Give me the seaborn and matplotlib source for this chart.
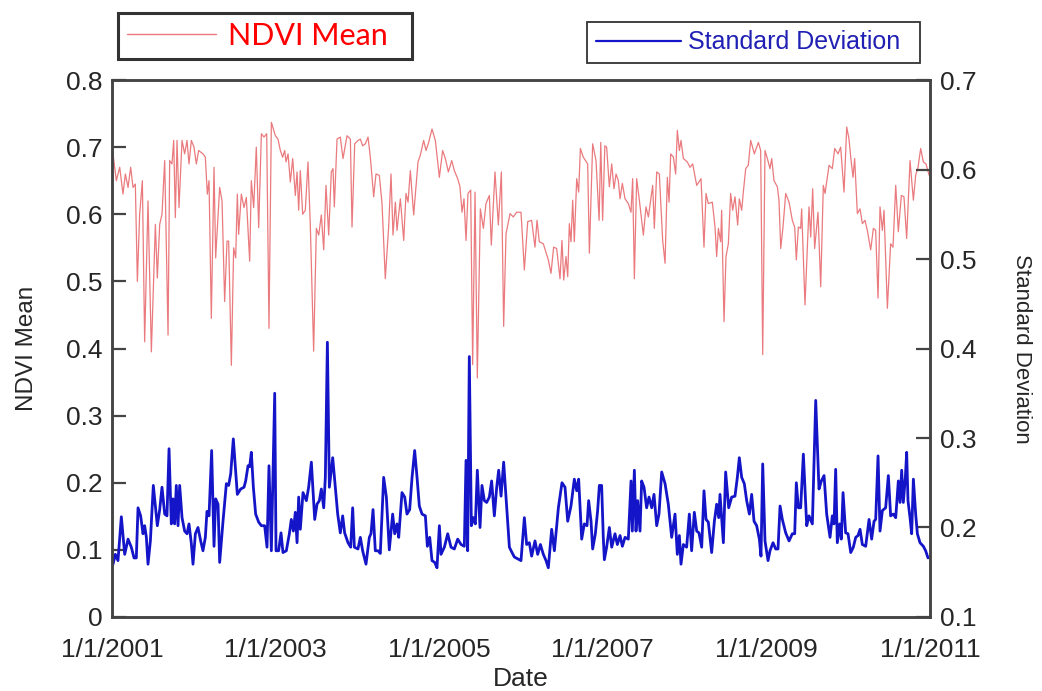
import matplotlib
matplotlib.use("Agg")
import matplotlib.pyplot as plt
from matplotlib.lines import Line2D
import seaborn as sns
import pandas as pd

# ---------------- data (years since 1/1/2001) -------------
ndvi_t = [0.012,0.053,0.094,0.134,0.163,0.196,0.228,0.257,0.285,0.310,0.338,0.371,0.399,0.440,0.481,0.530,0.554,0.583,0.611,0.644,0.685,0.705,0.733,0.754,0.774,0.795,0.819,0.856,0.888,0.917,0.941,0.970,1.002,1.031,1.059,1.112,1.141,1.165,1.186,1.214,1.247,1.267,1.316,1.345,1.377,1.406,1.426,1.459,1.487,1.512,1.532,1.548,1.581,1.614,1.642,1.683,1.703,1.732,1.764,1.793,1.826,1.858,1.891,1.919,1.948,
          1.997,2.029,2.058,2.086,2.111,2.127,2.152,2.180,2.209,2.241,2.262,2.282,2.302,2.331,2.363,2.396,2.425,2.465,2.498,2.527,2.559,2.588,2.616,2.649,2.681,2.702,2.718,2.751,2.791,2.824,2.873,2.914,2.934,2.967,3.007,3.036,3.064,3.097,3.130,3.158,3.199,3.227,3.268,3.301,3.341,3.382,3.411,3.435,3.464,3.484,3.525,3.566,3.594,3.619,3.647,3.688,3.741,3.769,3.810,3.839,3.871,3.912,3.953,
          4.002,4.042,4.075,4.112,4.153,4.185,4.226,4.254,4.279,4.303,4.328,4.352,4.385,4.409,4.438,4.466,4.503,4.540,4.572,4.613,4.637,4.682,4.723,4.760,4.788,4.817,4.866,4.906,4.947,5.000,5.041,5.082,5.130,5.171,5.196,5.224,5.273,5.334,5.367,5.399,5.436,5.477,5.501,5.522,5.550,5.571,5.591,5.611,5.632,5.652,5.681,5.705,5.726,5.762,5.815,5.836,5.876,5.917,5.955,5.975,5.998,6.025,
          6.047,6.080,6.109,6.137,6.162,6.190,6.211,6.239,6.272,6.312,6.345,6.365,6.386,6.414,6.447,6.496,6.528,6.557,6.610,6.630,6.659,6.691,6.732,6.761,6.789,6.810,6.830,6.863,6.891,6.911,6.936,6.956,6.985,7.033,7.066,7.099,7.148,7.201,7.237,7.262,7.290,7.339,7.372,7.392,7.413,7.441,7.453,7.482,7.506,7.535,7.563,7.588,7.616,7.649,7.669,7.698,7.718,7.747,7.779,7.808,7.853,7.902,7.930,7.955,
          7.983,8.012,8.044,8.065,8.093,8.134,8.154,8.175,8.203,8.236,8.277,8.317,8.346,8.366,8.391,8.419,8.431,8.472,8.521,8.542,8.566,8.590,8.631,8.664,8.696,8.717,8.766,8.806,8.835,8.876,8.908,8.949,8.982,9.010,9.031,9.059,9.079,9.112,9.145,9.173,9.206,9.234,9.275,9.308,9.336,9.365,9.389,9.418,9.438,9.479,9.519,9.548,9.581,9.613,9.650,9.682,9.715,9.756,9.797,9.825,9.854,9.886,9.919,9.951,9.990]
ndvi_mean = [.690,.650,.670,.630,.660,.640,.670,.640,.645,.500,.600,.650,.410,.620,.395,.585,.505,.585,.600,.680,.420,.680,.675,.710,.595,.710,.610,.710,.690,.710,.675,.710,.700,.675,.695,.690,.685,.630,.650,.445,.670,.535,.640,.620,.470,.560,.560,.375,.550,.535,.630,.570,.630,.610,.625,.530,.650,.610,.700,.580,.720,.715,.720,.430,.737,
             .717,.712,.695,.685,.695,.678,.690,.648,.683,.628,.663,.606,.665,.600,.606,.678,.581,.396,.579,.569,.599,.547,.643,.569,.663,.668,.611,.712,.715,.683,.717,.712,.581,.705,.710,.712,.702,.705,.715,.685,.626,.660,.658,.616,.504,.581,.660,.569,.618,.576,.623,.561,.631,.618,.665,.599,.678,.688,.710,.695,.707,.727,.710,
             .655,.695,.683,.663,.680,.665,.653,.641,.603,.623,.561,.631,.636,.376,.633,.356,.608,.579,.616,.628,.554,.663,.584,.663,.433,.571,.601,.596,.603,.603,.517,.589,.591,.551,.591,.559,.556,.532,.512,.551,.549,.504,.561,.502,.537,.507,.586,.559,.621,.559,.653,.633,.698,.685,.675,.542,.705,.680,.591,.707,.591,.702,
             .700,.641,.675,.638,.660,.650,.623,.646,.623,.616,.603,.653,.504,.653,.621,.569,.611,.596,.643,.579,.663,.660,.561,.527,.655,.618,.690,.685,.660,.725,.695,.710,.683,.678,.670,.675,.643,.653,.551,.631,.616,.618,.581,.537,.579,.559,.606,.440,.537,.556,.631,.606,.626,.584,.623,.606,.633,.668,.673,.710,.690,.707,.695,.391,
             .695,.683,.668,.683,.650,.641,.621,.549,.581,.631,.618,.591,.581,.532,.581,.579,.608,.465,.611,.566,.638,.549,.603,.492,.643,.631,.673,.668,.698,.690,.700,.633,.730,.712,.685,.655,.683,.601,.608,.586,.591,.576,.547,.579,.576,.475,.611,.576,.606,.460,.556,.551,.643,.574,.628,.626,.564,.680,.621,.658,.670,.698,.678,.675,.658]

sd_t = [0.012,0.041,0.073,0.114,0.155,0.196,0.236,0.269,0.297,0.318,0.350,0.379,0.399,0.420,0.440,0.469,0.505,0.554,0.583,0.611,0.644,0.672,0.697,0.725,0.746,0.766,0.786,0.807,0.827,0.856,0.888,0.917,0.941,0.970,0.990,1.019,1.051,1.084,1.112,1.141,1.161,1.186,1.218,1.247,1.267,1.296,1.316,1.357,1.398,1.426,1.451,1.483,1.508,1.532,1.573,1.614,1.634,1.663,1.683,1.703,1.728,1.756,1.793,1.826,1.866,1.895,1.919,1.948,1.989,
        2.005,2.037,2.066,2.090,2.131,2.168,2.192,2.217,2.241,2.262,2.282,2.302,2.335,2.376,2.404,2.437,2.478,2.506,2.535,2.559,2.588,2.608,2.633,2.657,2.698,2.730,2.759,2.791,2.820,2.844,2.885,2.918,2.942,2.963,3.007,3.036,3.064,3.105,3.146,3.166,3.191,3.219,3.252,3.280,3.321,3.354,3.390,3.431,3.456,3.484,3.505,3.545,3.578,3.606,3.639,3.668,3.700,3.729,3.757,3.790,3.831,3.855,3.884,3.912,3.945,3.973,
        4.002,4.022,4.063,4.104,4.144,4.185,4.226,4.267,4.307,4.328,4.348,4.368,4.393,4.417,4.442,4.466,4.499,4.523,4.552,4.580,4.613,4.641,4.674,4.703,4.727,4.756,4.788,4.825,4.858,4.890,4.919,4.959,5.000,5.041,5.069,5.102,5.130,5.171,5.204,5.237,5.273,5.306,5.334,5.375,5.408,5.457,5.501,5.538,5.571,5.611,5.652,5.681,5.705,5.742,5.774,5.807,5.827,5.856,5.876,5.909,5.937,5.958,5.986,
        6.006,6.019,6.047,6.080,6.109,6.149,6.178,6.211,6.239,6.272,6.312,6.345,6.361,6.386,6.406,6.426,6.455,6.475,6.504,6.536,6.565,6.598,6.626,6.659,6.687,6.720,6.761,6.801,6.842,6.883,6.911,6.936,6.956,6.985,7.025,7.058,7.086,7.119,7.148,7.176,7.209,7.237,7.262,7.290,7.331,7.364,7.392,7.417,7.433,7.474,7.502,7.539,7.576,7.616,7.645,7.669,7.698,7.730,7.759,7.792,7.820,7.849,7.881,7.914,7.934,7.955,7.983,
        8.020,8.044,8.081,8.114,8.142,8.167,8.195,8.236,8.277,8.317,8.346,8.366,8.391,8.419,8.452,8.493,8.521,8.562,8.603,8.643,8.672,8.705,8.737,8.778,8.806,8.827,8.847,8.867,8.896,8.916,8.937,8.969,8.998,9.031,9.063,9.092,9.120,9.145,9.173,9.214,9.255,9.287,9.316,9.336,9.365,9.389,9.418,9.458,9.491,9.519,9.552,9.581,9.613,9.634,9.654,9.674,9.699,9.715,9.731,9.756,9.776,9.797,9.825,9.846,9.878,9.919,9.947,9.976]
sd_value = [.159,.170,.163,.212,.170,.187,.178,.166,.166,.222,.213,.193,.202,.189,.159,.185,.247,.202,.220,.245,.215,.213,.288,.204,.232,.204,.247,.202,.247,.211,.196,.193,.204,.182,.159,.193,.200,.185,.174,.189,.218,.213,.286,.179,.232,.226,.161,.207,.249,.247,.260,.299,.267,.237,.243,.245,.252,.269,.268,.284,.245,.215,.206,.202,.202,.178,.269,.174,.350,
            .174,.174,.194,.172,.174,.193,.209,.196,.217,.183,.234,.198,.239,.230,.245,.273,.209,.226,.230,.243,.222,.256,.407,.245,.278,.245,.215,.194,.213,.194,.183,.178,.222,.178,.176,.189,.174,.159,.189,.193,.220,.174,.174,.171,.256,.234,.175,.215,.193,.204,.189,.239,.234,.215,.220,.256,.286,.256,.224,.215,.213,.179,.189,.163,.161,.155,
            .202,.170,.178,.193,.178,.176,.187,.181,.179,.275,.174,.391,.202,.211,.204,.264,.200,.247,.230,.228,.234,.252,.213,.245,.264,.235,.273,.222,.178,.172,.167,.165,.163,.211,.181,.183,.168,.185,.170,.181,.170,.163,.155,.198,.174,.222,.250,.245,.207,.224,.254,.241,.254,.187,.204,.202,.230,.207,.176,.193,.219,.247,.247,
            .189,.164,.178,.200,.178,.193,.181,.191,.179,.189,.187,.252,.196,.264,.196,.230,.196,.252,.245,.222,.234,.222,.237,.202,.215,.262,.249,.226,.189,.215,.170,.191,.159,.181,.178,.215,.174,.217,.196,.194,.178,.241,.209,.206,.172,.207,.226,.211,.237,.183,.262,.222,.234,.235,.256,.278,.256,.249,.230,.215,.237,.207,.202,.187,.168,.271,.185,
            .163,.174,.183,.176,.176,.224,.209,.194,.185,.193,.193,.250,.222,.222,.282,.202,.213,.204,.342,.243,.252,.258,.215,.189,.213,.204,.265,.183,.204,.187,.239,.194,.193,.172,.178,.189,.191,.198,.181,.179,.209,.187,.207,.209,.280,.196,.219,.222,.258,.213,.215,.211,.252,.228,.264,.228,.256,.284,.230,.211,.193,.254,.215,.193,.183,.179,.174,.166]

start_year = 2001
xtick_years = [2001, 2003, 2005, 2007, 2009, 2011]
xtick_labels = ["1/1/2001", "1/1/2003", "1/1/2005", "1/1/2007", "1/1/2009", "1/1/2011"]
left_ticks = [0, 0.1, 0.2, 0.3, 0.4, 0.5, 0.6, 0.7, 0.8]
left_labels = ["0", "0.1", "0.2", "0.3", "0.4", "0.5", "0.6", "0.7", "0.8"]
right_ticks = [0.1, 0.2, 0.3, 0.4, 0.5, 0.6, 0.7]
right_labels = ["0.1", "0.2", "0.3", "0.4", "0.5", "0.6", "0.7"]

# ---------------- styling ----------------
sns.set_style("white")
plt.rcParams['font.family'] = ['Liberation Sans', 'DejaVu Sans']

RED = "#ea7a7e"
BLUE = "#1414c8"
SPINE = "#444444"

df_ndvi = pd.DataFrame({"year": [start_year + t for t in ndvi_t], "value": ndvi_mean})
df_sd = pd.DataFrame({"year": [start_year + t for t in sd_t], "value": sd_value})

fig = plt.figure(figsize=(10.42, 6.91), dpi=100)
ax = fig.add_axes([0.1075, 0.1071, 0.785, 0.7771])
ax2 = ax.twinx()

sns.lineplot(data=df_ndvi, x="year", y="value", ax=ax, color=RED, linewidth=0.9, legend=False)
sns.lineplot(data=df_sd, x="year", y="value", ax=ax2, color=BLUE, linewidth=2.0, legend=False)

ax.set_xlim(2001, 2011)
ax.set_ylim(0, 0.8)
ax2.set_ylim(0.1, 0.7)

ax.set_xticks(xtick_years)
ax.set_xticklabels(xtick_labels)
ax.set_yticks(left_ticks)
ax.set_yticklabels(left_labels)
ax2.set_yticks(right_ticks)
ax2.set_yticklabels(right_labels)

for a in (ax, ax2):
    for s in a.spines.values():
        s.set_color(SPINE)
        s.set_linewidth(1.8)
    a.tick_params(direction="in", length=10, width=1.6, color=SPINE, labelsize=19, pad=7)
ax.tick_params(axis="x", length=9, pad=15)
ax2.tick_params(axis="y", pad=7)

ax.set_xlabel("Date", fontsize=19, labelpad=4)
ax.set_ylabel("NDVI Mean", fontsize=17.5, labelpad=20)
ax2.set_ylabel("Standard Deviation", fontsize=16, rotation=270, labelpad=40)

# ---------------- legends ----------------
h1 = Line2D([], [], color=RED, linewidth=1.0)
leg1 = fig.legend([h1], ["NDVI Mean"], loc="lower left",
                  bbox_to_anchor=(118 / 1042, 1 - 59 / 691, 294 / 1042, 0.01),
                  mode="expand", frameon=True, fancybox=False, handlelength=2.9,
                  handletextpad=0.4, borderpad=0.3, borderaxespad=0.0,
                  labelcolor="#ff0000",
                  prop={"family": ["Lato", "DejaVu Sans"], "size": 22})
leg1.get_frame().set_edgecolor("black")
leg1.get_frame().set_linewidth(2.2)

h2 = Line2D([], [], color=BLUE, linewidth=1.6)
leg2 = fig.legend([h2], ["Standard Deviation"], loc="lower left",
                  bbox_to_anchor=(587 / 1042, 1 - 63 / 691, 333 / 1042, 0.01),
                  mode="expand", frameon=True, fancybox=False, handlelength=3.4,
                  handletextpad=0.3, borderpad=0.35, borderaxespad=0.0,
                  labelcolor="#2020b4",
                  prop={"family": ["Liberation Sans", "DejaVu Sans"], "size": 18})
leg2.get_frame().set_edgecolor("black")
leg2.get_frame().set_linewidth(1.3)

fig.savefig("out.png", dpi=100)
